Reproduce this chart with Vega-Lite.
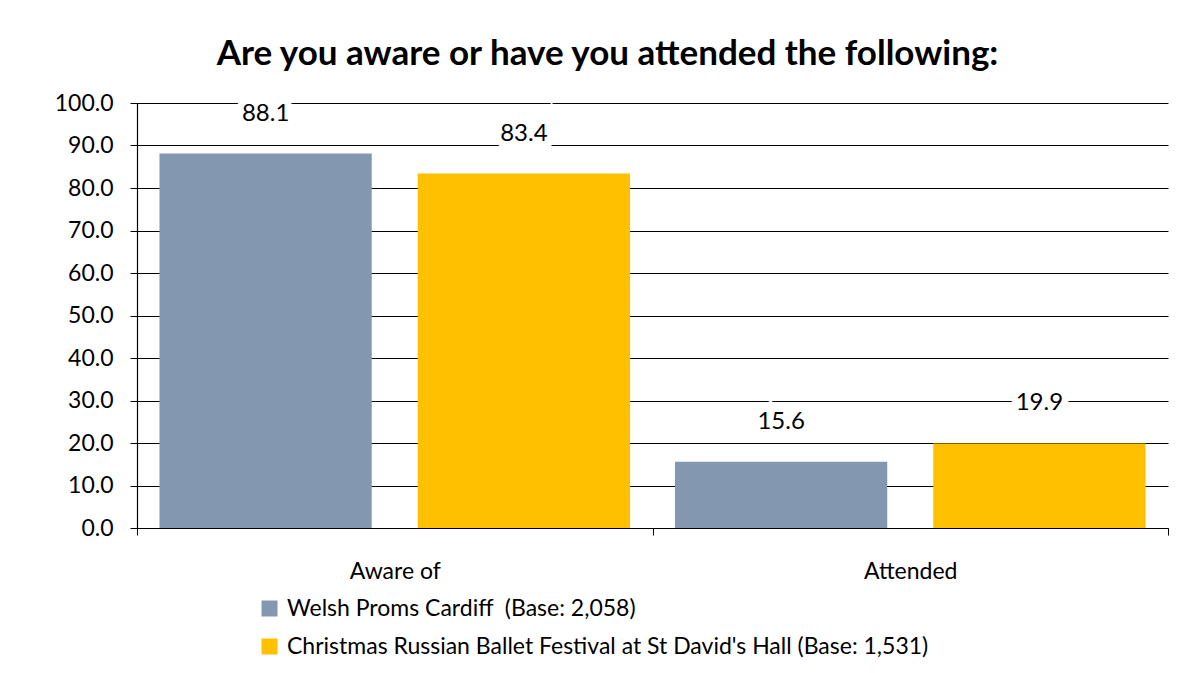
{
  "$schema": "https://vega.github.io/schema/vega-lite/v6.json",
  "width": 1031,
  "height": 425,
  "autosize": "none",
  "padding": {"left": 137, "top": 103, "right": 29, "bottom": 145},
  "background": "white",
  "config": {
    "font": "Lato",
    "view": {"stroke": null}
  },
  "title": {
    "text": "Are you aware or have you attended the following:",
    "font": "Lato",
    "fontSize": 35,
    "fontWeight": "bold",
    "color": "black",
    "anchor": "middle",
    "dx": -45,
    "offset": 20
  },
  "data": {
    "values": [
      {"category": "Aware of", "series": "Welsh Proms Cardiff \u00a0(Base: 2,058)", "value": 88.1},
      {"category": "Aware of", "series": "Christmas Russian Ballet Festival at St David's Hall (Base: 1,531)", "value": 83.4},
      {"category": "Attended", "series": "Welsh Proms Cardiff \u00a0(Base: 2,058)", "value": 15.6},
      {"category": "Attended", "series": "Christmas Russian Ballet Festival at St David's Hall (Base: 1,531)", "value": 19.9}
    ]
  },
  "encoding": {
    "x": {
      "field": "category",
      "type": "nominal",
      "sort": ["Aware of", "Attended"],
      "scale": {"paddingInner": 0, "paddingOuter": 0},
      "axis": {
        "title": null,
        "labelAngle": 0,
        "labelFontSize": 23,
        "labelColor": "black",
        "labelPadding": 25,
        "domainColor": "black",
        "domainWidth": 1.2,
        "tickColor": "black",
        "tickSize": 7,
        "tickBand": "extent",
        "grid": false
      }
    },
    "xOffset": {
      "field": "series",
      "type": "nominal",
      "sort": ["Welsh Proms Cardiff \u00a0(Base: 2,058)", "Christmas Russian Ballet Festival at St David's Hall (Base: 1,531)"],
      "scale": {"paddingInner": 0.178, "paddingOuter": 0.087}
    },
    "y": {
      "field": "value",
      "type": "quantitative",
      "scale": {"domain": [0, 100], "nice": false},
      "axis": {
        "title": null,
        "values": [0, 10, 20, 30, 40, 50, 60, 70, 80, 90, 100],
        "format": ".1f",
        "labelFontSize": 23,
        "labelColor": "black",
        "labelPadding": 17,
        "domainColor": "black",
        "domainWidth": 1.2,
        "tickColor": "black",
        "tickSize": 7,
        "gridColor": "black",
        "gridWidth": 1,
        "gridOpacity": 1
      }
    }
  },
  "layer": [
    {
      "mark": {"type": "bar"},
      "encoding": {
        "color": {
          "field": "series",
          "type": "nominal",
          "sort": ["Welsh Proms Cardiff \u00a0(Base: 2,058)", "Christmas Russian Ballet Festival at St David's Hall (Base: 1,531)"],
          "scale": {"range": ["#8497B0", "#FFC000"]},
          "legend": {
            "title": null,
            "orient": "none",
            "legendX": 121,
            "legendY": 494,
            "direction": "vertical",
            "symbolType": "square",
            "symbolSize": 256,
            "symbolStrokeWidth": 0,
            "labelFontSize": 23,
            "labelColor": "black",
            "labelLimit": 900,
            "rowPadding": 14,
            "labelOffset": 6
          }
        }
      }
    },
    {
      "mark": {"type": "text", "fontSize": 24, "dy": -40, "baseline": "middle", "stroke": "white", "strokeWidth": 14, "color": "white", "strokeJoin": "miter"},
      "encoding": {
        "text": {"field": "value", "type": "quantitative", "format": ".1f"}
      }
    },
    {
      "mark": {"type": "text", "fontSize": 24, "dy": -40, "baseline": "middle", "color": "black"},
      "encoding": {
        "text": {"field": "value", "type": "quantitative", "format": ".1f"}
      }
    }
  ]
}
